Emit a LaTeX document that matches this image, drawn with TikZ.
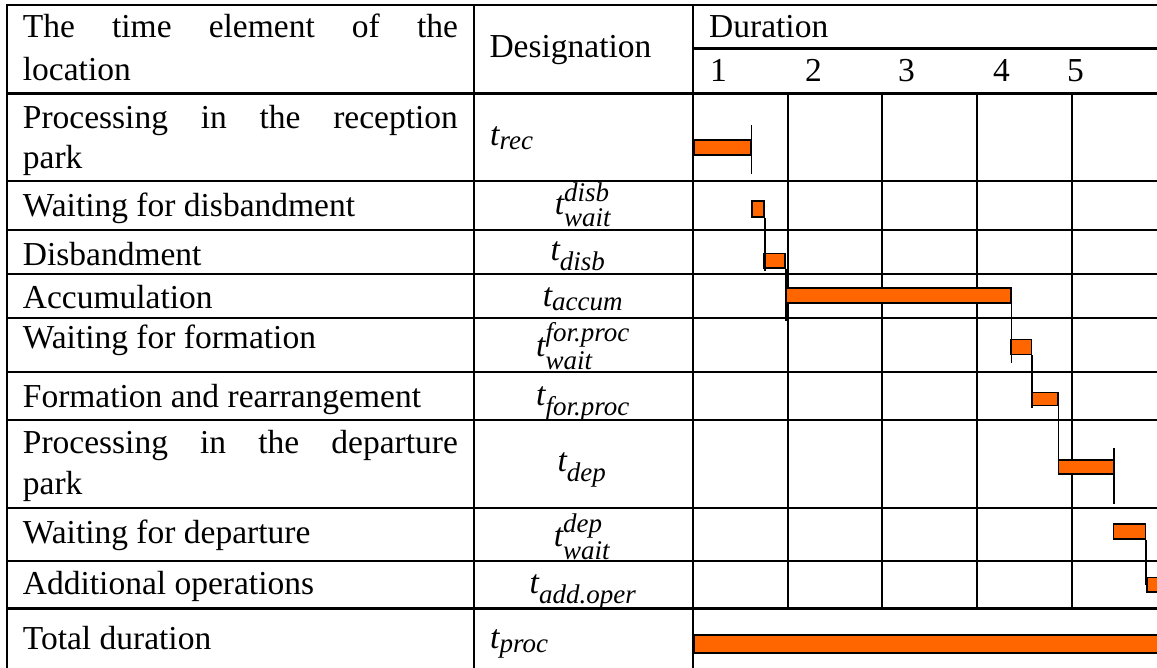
\documentclass[tikz,border=0pt]{standalone}
\usepackage{amsmath}
\usepackage{fontspec}
\setmainfont{Liberation Serif}
\usetikzlibrary{calc}
\DeclareMathSizes{33.5}{35}{27}{20}
\definecolor{barorange}{HTML}{FF6600}
\newcommand{\mi}[1]{\textit{#1}}
\newcommand{\supr}[1]{\raisebox{3.5pt}{$\scriptstyle\mi{#1}$}}
\newcommand{\subr}[1]{\raisebox{0.5pt}{$\scriptstyle\mi{#1}$}}
\begin{document}
\begin{tikzpicture}[x=1pt,y=-1pt,
  gridline/.style={line width=2.4pt, line cap=rect},
  bar/.style={draw=black, fill=barorange, line width=1.5pt, inner sep=0pt, anchor=north west},
  link/.style={line width=1.5pt},
  lbl/.style={inner sep=0pt, anchor=base west, font=\fontsize{33.5}{42}\selectfont},
  des/.style={inner sep=0pt, anchor=base, font=\fontsize{33.5}{42}\selectfont},
]
\clip (0,0) rectangle (1157,667);
\fill[white] (0,0) rectangle (1157,667);
% grid
\draw[gridline] (7,5) -- (1165,5);
\draw[gridline] (693,48.5) -- (1165,48.5);
\foreach \y in {93.5,180.8,230,273.8,317.8,371.8,420,507.8,560.8,608.3}
  \draw[gridline] (7,\y) -- (1165,\y);
\draw[gridline] (7,5) -- (7,675);
\draw[gridline] (474,5) -- (474,675);
\draw[gridline] (693,5) -- (693,675);
\foreach \x in {787.8,882,976.8,1072}
  \draw[gridline] (\x,93.5) -- (\x,608.3);
% bars
\node[bar, minimum width=56.7pt, minimum height=14.7pt] (b1) at (693.3,139.3) {};
\node[bar, minimum width=12.3pt, minimum height=15.7pt] (b2) at (751,200.3) {};
\node[bar, minimum width=21pt, minimum height=14.3pt] (b3) at (763.3,252.7) {};
\node[bar, minimum width=225pt, minimum height=14.7pt] (b4) at (785,287.3) {};
\node[bar, minimum width=20.5pt, minimum height=15pt] (b5) at (1010,338.7) {};
\node[bar, minimum width=26.5pt, minimum height=13pt] (b6) at (1030.5,391.7) {};
\node[bar, minimum width=55.2pt, minimum height=14pt] (b7) at (1057.5,459.3) {};
\node[bar, minimum width=31.8pt, minimum height=14.7pt] (b8) at (1112.7,523.3) {};
\node[bar, minimum width=30pt, minimum height=14.6pt] (b9) at (1146,576.7) {};
\node[bar, minimum width=480pt, minimum height=18pt] (b10) at (693.5,634) {};
% connectors and ticks
\coordinate (t1a) at ($(b1.north east)+(0,-14.3)$);
\coordinate (t1b) at ($(b1.south east)+(0,18)$);
\draw[link] (t1a) -- (t1b);
\draw[link] (b2.south east) -- ($(b2.south east |- b3.south)+(0,2.3)$);
\draw[link] (b3.south east) -- ($(b3.south east |- b4.south)+(0,17)$);
\draw[link] (b4.south east) -- ($(b4.south east |- b5.south)+(0,8)$);
\draw[link] (b5.south east) -- ($(b5.south east |- b6.south)+(0,1.3)$);
\draw[link] (b6.south east) -- (b6.south east |- b7.south);
\coordinate (t7a) at ($(b7.north east)+(0,-11)$);
\coordinate (t7b) at ($(b7.south east)+(0,29)$);
\draw[link] (t7a) -- (t7b);
\draw[link] (b8.south east) -- (b8.south east |- b9.center);
% left column
\node[lbl] (h1a) at (22.7,37) {\makebox[435pt][s]{The time element of the}};
\node[lbl] (h1b) at (22.7,80.5) {location};
\node[lbl] (r1a) at (22.7,128.5) {\makebox[435pt][s]{Processing in the reception}};
\node[lbl] (r1b) at (22.7,168) {park};
\node[lbl] (r2) at (22.7,216.7) {Waiting for disbandment};
\node[lbl] (r3) at (22.7,265) {Disbandment};
\node[lbl] (r4) at (22.7,308) {Accumulation};
\node[lbl] (r5) at (22.7,348.5) {Waiting for formation};
\node[lbl] (r6) at (22.7,407) {Formation and rearrangement};
\node[lbl] (r7a) at (22.7,453) {\makebox[435pt][s]{Processing in the departure}};
\node[lbl] (r7b) at (22.7,494) {park};
\node[lbl] (r8) at (22.7,543) {Waiting for departure};
\node[lbl] (r9) at (22.7,594.5) {Additional operations};
\node[lbl] (r10) at (22.7,649) {Total duration};
% designation column
\node[lbl] (dh) at (489.3,57.5) {Designation};
\node[lbl] (d1) at (490,145) {$\mi{t}_{\mi{rec}}$};
\node[des] (d2) at (583,214) {$\mi{t}^{\supr{disb}}_{\subr{wait}}$};
\node[des] (d3) at (578,260) {$\mi{t}_{\mi{disb}}$};
\node[des] (d4) at (583,306) {$\mi{t}_{\mi{accum}}$};
\node[des] (d5) at (583,356) {$\mi{t}^{\supr{for.proc}}_{\subr{wait}}$};
\node[des] (d6) at (583,405) {$\mi{t}_{\mi{for.proc}}$};
\node[des] (d7) at (582,471.7) {$\mi{t}_{\mi{dep}}$};
\node[des] (d8) at (582,546.5) {$\mi{t}^{\supr{dep}}_{\subr{wait}}$};
\node[des] (d9) at (583,593) {$\mi{t}_{\mi{add.oper}}$};
\node[lbl] (d10) at (490,648) {$\mi{t}_{\mi{proc}}$};
% duration header
\node[lbl] (dur) at (709,37.5) {Duration};
\node[lbl] (n1) at (710,81) {1};
\node[lbl] (n2) at (805,81) {2};
\node[lbl] (n3) at (898,81) {3};
\node[lbl] (n4) at (993,81) {4};
\node[lbl] (n5) at (1067,81) {5};
\end{tikzpicture}
\end{document}
